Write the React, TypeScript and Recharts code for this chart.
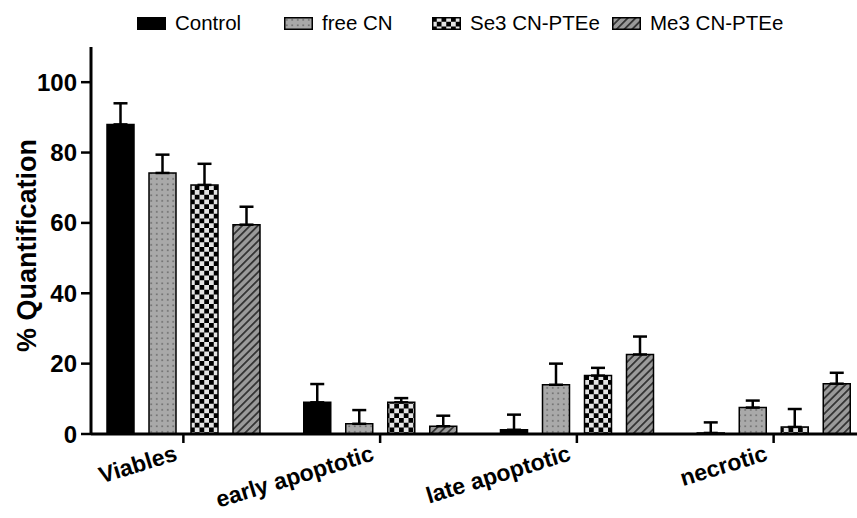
import React from 'react';
import { BarChart, Bar, XAxis, YAxis, ErrorBar, Label } from 'recharts';

// Cell-death quantification per treatment group (mean and SD, %)
const categories = ['Viables', 'early apoptotic', 'late apoptotic', 'necrotic'];
const seriesNames = ['Control', 'free CN', 'Se3 CN-PTEe', 'Me3 CN-PTEe'];

const controlMean = [88, 9, 1.2, 0.3];
const controlSd = [6, 5.2, 4.3, 3];
const freeCnMean = [74.2, 2.9, 14, 7.5];
const freeCnSd = [5.2, 3.9, 6, 2];
const se3Mean = [70.8, 9, 16.6, 2];
const se3Sd = [6, 1.2, 2.2, 5.1];
const me3Mean = [59.5, 2.2, 22.6, 14.3];
const me3Sd = [5.1, 3, 5.1, 3.1];

const yTicks = [0, 20, 40, 60, 80, 100];

const FONT = '"Liberation Sans", Arial, Helvetica, sans-serif';

const seriesKeys = ['control', 'freeCn', 'se3', 'me3'];
const seriesPatterns = ['', 'dots', 'checker', 'hatch'];

// left edge of each legend entry (swatch start), in pixels
const legendLefts = [137, 284, 432, 612];

const data = categories.map((name, i) => ({
  name,
  control: controlMean[i],
  controlErr: [0, controlSd[i]],
  freeCn: freeCnMean[i],
  freeCnErr: [0, freeCnSd[i]],
  se3: se3Mean[i],
  se3Err: [0, se3Sd[i]],
  me3: me3Mean[i],
  me3Err: [0, me3Sd[i]],
}));

const fillFor = (i: number, prefix = '') =>
  seriesPatterns[i] ? `url(#${prefix}${seriesPatterns[i]})` : '#000';

function PatternDefs({ prefix = '' }: { prefix?: string }) {
  return (
    <defs>
      <pattern id={`${prefix}dots`} width="5.5" height="5.5" patternUnits="userSpaceOnUse">
        <rect width="5.5" height="5.5" fill="#a9a9a9" />
        <circle cx="2.75" cy="2.75" r="0.8" fill="#4a4a4a" />
      </pattern>
      <pattern id={`${prefix}checker`} width="9.5" height="9.5" patternUnits="userSpaceOnUse">
        <rect width="9.5" height="9.5" fill="#e4e4e4" />
        <rect width="4.75" height="4.75" fill="#000" />
        <rect x="4.75" y="4.75" width="4.75" height="4.75" fill="#000" />
      </pattern>
      <pattern
        id={`${prefix}hatch`}
        width="5.5"
        height="5.5"
        patternUnits="userSpaceOnUse"
        patternTransform="rotate(45)"
      >
        <rect width="5.5" height="5.5" fill="#9a9a9a" />
        <rect width="1.8" height="5.5" fill="#333" />
      </pattern>
    </defs>
  );
}

const X_TICK_SIZE = 9;
const X_TICK_MARGIN = 1;

function CategoryTick(props: any) {
  const { x, y, payload } = props;
  return (
    <g>
      <line
        x1={x}
        x2={x}
        y1={y - X_TICK_SIZE - X_TICK_MARGIN}
        y2={y - X_TICK_MARGIN}
        stroke="#000"
        strokeWidth={2.5}
      />
      <g transform={`translate(${x - 5},${y + 16}) rotate(-17)`}>
        <text
          x={0}
          y={0}
          textAnchor="end"
          fontFamily={FONT}
          fontWeight="bold"
          fontSize={23}
          fill="#000"
        >
          {payload.value}
        </text>
      </g>
    </g>
  );
}

function YTitle(props: any) {
  const { viewBox } = props;
  const cx = 27;
  const cy = viewBox.y + viewBox.height / 2 + 5;
  return (
    <text
      x={cx}
      y={cy}
      transform={`rotate(-90, ${cx}, ${cy})`}
      textAnchor="middle"
      dy="0.35em"
      fontFamily={FONT}
      fontWeight="bold"
      fontSize={27}
      fill="#000"
    >
      % Quantification
    </text>
  );
}

function LegendRow() {
  return (
    <div style={{ position: 'absolute', top: 10, left: 0, width: 857, height: 26 }}>
      {seriesNames.map((name, i) => (
        <div
          key={name}
          style={{
            position: 'absolute',
            left: legendLefts[i],
            top: 0,
            height: 26,
            display: 'flex',
            alignItems: 'center',
            fontFamily: FONT,
            fontSize: 20.5,
            color: '#000',
            whiteSpace: 'nowrap',
          }}
        >
          <svg width={29} height={13} style={{ marginRight: 9, display: 'block' }}>
            <PatternDefs prefix={`lg${i}-`} />
            <rect
              x={0.75}
              y={0.75}
              width={27.5}
              height={11.5}
              fill={fillFor(i, `lg${i}-`)}
              stroke="#000"
              strokeWidth={1.5}
            />
          </svg>
          <span>{name}</span>
        </div>
      ))}
    </div>
  );
}

export default function App() {
  return (
    <div
      style={{
        position: 'absolute',
        left: 0,
        top: 0,
        width: 857,
        height: 518,
        background: '#fff',
        overflow: 'hidden',
      }}
    >
      <svg width={0} height={0} style={{ position: 'absolute' }}>
        <PatternDefs />
      </svg>
      <LegendRow />
      <BarChart
        width={857}
        height={518}
        data={data}
        margin={{ top: 47, right: 0, bottom: 0, left: 0 }}
        barSize={27}
        barGap={15}
      >
        <XAxis
          dataKey="name"
          height={84}
          padding={{ left: -6, right: -15 }}
          axisLine={{ stroke: '#000', strokeWidth: 3 }}
          tickLine={false}
          tickSize={X_TICK_SIZE}
          tickMargin={X_TICK_MARGIN}
          tick={<CategoryTick />}
          interval={0}
        />
        <YAxis
          width={91}
          domain={[0, 110]}
          ticks={yTicks}
          allowDataOverflow
          axisLine={{ stroke: '#000', strokeWidth: 3 }}
          tickLine={{ stroke: '#000', strokeWidth: 2.5 }}
          tickSize={10}
          tickMargin={4}
          tick={{ fill: '#000', fontFamily: FONT, fontWeight: 'bold', fontSize: 24 }}
        >
          <Label content={<YTitle />} />
        </YAxis>
        {seriesKeys.map((key, i) => (
          <Bar
            key={key}
            dataKey={key}
            name={seriesNames[i]}
            fill={fillFor(i)}
            stroke="#000"
            strokeWidth={1.5}
            isAnimationActive={false}
          >
            <ErrorBar
              dataKey={`${key}Err`}
              direction="y"
              width={7}
              stroke="#000"
              strokeWidth={2.5}
              isAnimationActive={false}
            />
          </Bar>
        ))}
      </BarChart>
    </div>
  );
}
